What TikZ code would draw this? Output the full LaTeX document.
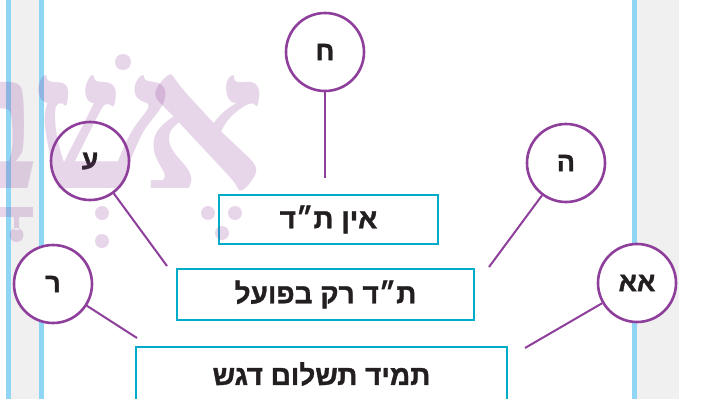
\documentclass[tikz,border=0pt]{standalone}
\usepackage{fontspec}
\newfontfamily\hebfont[Script=Hebrew,BoldFont={Liberation Sans Bold},
    BoldFeatures={FakeBold=1.2}]{Liberation Sans}
\newfontfamily\hebserif[Script=Hebrew,BoldFont={Liberation Serif Bold}]{Liberation Serif}
\TeXXeTstate=1
\newcommand\heb[1]{\beginR#1\endR}
\usetikzlibrary{positioning}
\definecolor{ringpurple}{RGB}{142,62,155}
\definecolor{boxcyan}{RGB}{0,172,200}
\definecolor{barblue}{RGB}{143,214,245}
\definecolor{stripgrey}{RGB}{240,240,240}
\definecolor{ink}{RGB}{35,31,32}

\begin{document}
\begin{tikzpicture}[x=1pt,y=-1pt,
        box/.style={draw=boxcyan,line width=2.5pt,inner sep=0pt,
            text=ink,font=\hebfont\bfseries\fontsize{28}{32}\selectfont},
        ring/.style={circle,draw=ringpurple,line width=2.6pt,fill=white,
            minimum size=78pt,inner sep=0pt,
            text=ink,font=\hebfont\bfseries\fontsize{27}{30}\selectfont},
        link/.style={draw=ringpurple,line width=2pt},
        wmark/.style={anchor=base east,inner sep=0pt,text=ringpurple,
            text opacity=.21,
            font=\hebserif\bfseries\fontsize{192}{192}\selectfont},
        wdot/.style={fill=ringpurple,fill opacity=.21}
    ]
\useasboundingbox (0,0) rectangle (707,399);
% page margins
\fill[white] (0,0) rectangle (707,399);
\fill[stripgrey] (11,0) rectangle (39,399);
\fill[stripgrey] (637,0) rectangle (679,399);
\fill[barblue] (6,0) rectangle (11,399);
\fill[barblue] (39,0) rectangle (44,399);
\fill[barblue] (632,0) rectangle (637,399);

% the three boxes
\node[box,minimum width=219pt,minimum height=49pt] (none) at (328.5,219.5)
    {\heb{אין ת״ד}};
\node[box,minimum width=297pt,minimum height=51pt] (act) at (325.5,294.5)
    {\heb{ת״ד רק בפועל}};
\node[box,minimum width=371pt,minimum height=54pt] (always) at (321.5,374)
    {\heb{תמיד תשלום דגש}};

% letters
\node[ring] (het) at (325,52) {\heb{ח}};
\node[ring] (ayin) at (90,161) {\heb{ע}};
\node[ring] (he) at (566,163) {\heb{ה}};
\node[ring] (resh) at (53,284) {\heb{ר}};
\node[ring] (alef) at (637,283) {\heb{אא}};

\coordinate (hetend) at (325,178);
\coordinate (ayinend) at (167,266);
\coordinate (heend) at (489,267);
\coordinate (reshend) at (137,338);
\coordinate (alefend) at (525,348);

\draw[link] (het) -- (hetend);
\draw[link] (ayin) -- (ayinend);
\draw[link] (he) -- (heend);
\draw[link] (resh) -- (reshend);
\draw[link] (alef) -- (alefend);

% faded watermark
\node[wmark] (walef) at (266,188) {\heb{א}};
\node[wmark] (wshin) at (168,188) {\heb{ש}};
\node[wmark] (wbet) at (40,188) {\heb{ב}};
\fill[wdot] (123,62) circle (8);
\fill[wdot] (102,213) circle (7);
\fill[wdot] (102,241) circle (7);
\fill[wdot] (208,213) circle (7);
\fill[wdot] (235,213) circle (7);
\fill[wdot] (222,233) circle (7);
\fill[wdot] (0,207) rectangle (33,217);
\fill[wdot] (14,217) rectangle (19,230) (16.5,235) circle (7);
\end{tikzpicture}
\end{document}
